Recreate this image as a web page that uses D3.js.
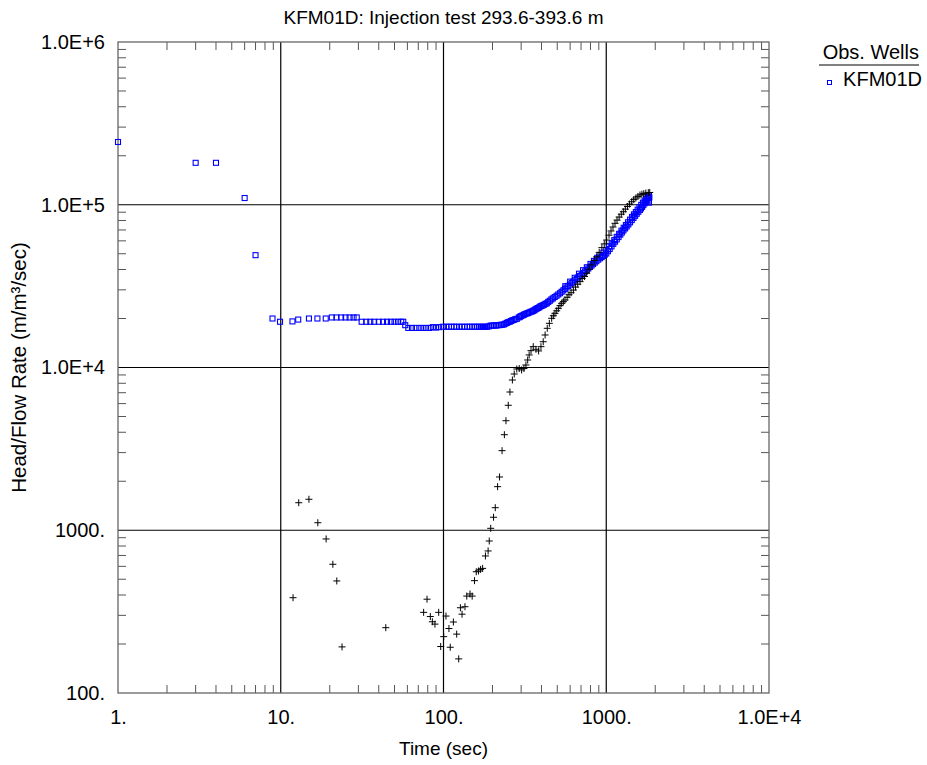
<!DOCTYPE html>
<html><head><meta charset="utf-8">
<script src="https://cdn.jsdelivr.net/npm/d3@7/dist/d3.min.js"></script>
<style>body{margin:0;background:#fff}svg{display:block}text{font-family:"Liberation Sans",Arial,sans-serif;fill:#000}</style>
</head><body><svg id="c" width="927" height="765"></svg>
<script>
const title = "KFM01D: Injection test 293.6-393.6 m";
const xTitle = "Time (sec)";
const yTitle = "Head/Flow Rate (m/m³/sec)";
const xTickValues = [1, 10, 100, 1000, 10000];
const xTickLabels = ["1.", "10.", "100.", "1000.", "1.0E+4"];
const yTickValues = [100, 1000, 10000, 100000, 1000000];
const yTickLabels = ["100.", "1000.", "1.0E+4", "1.0E+5", "1.0E+6"];
const legendTitle = "Obs. Wells";
const seriesName = "KFM01D";

// Observed head (blue squares): [time sec, value]
const headData = [
 [1,243000],[3,181000],[4,181000],[6,110000],[7,49000],
 [8.9,20000],[9.9,19100],[11.8,19200],[12.8,19700],[14.9,20000],[16.8,20000],[18.9,20000],
 [20.6,20300],[22,20300],[23.5,20300],[25,20300],[26.5,20300],[28,20300],[29.3,20300],
 [31.4,19100],[33.5,19100],[35.5,19100],[37.5,19100],[40,19100],[42.5,19100],[45,19100],[47.5,19100],[50,19100],[52.5,19100],[55,19100],[56.6,19100],
 [58.2,18200],[60.8,17500],[64,17500],[67.5,17500],[71,17500],[74.5,17500],[78,17500],[82,17500],[86,17700],[90,17600],[94,17700],[99,17800],
 [104,17800],[108,17800],[112,17800],[116,17800],[120,17800],[125,17800],[130,17800],[135,17800],[140,17800],[145,17800],[150,17800],[155,17800],[160,17800],[165,17800],[170,17800],[175,17800],[180,17800],[185,17800],[190,17900],
 [195,18100],[200,18100],[205,18100],[210,18100],[215,18200],[220,18200],[225,18300],[230,18300],
 [235,18400],[240,18600],[245,18800],[250,19000],[255,19100],[260,19300],[265,19500],[270,19600],[276,19800],[282,19900],[290,20300],[295,20500],[300,20700],[306,20900],[312,21100],[318,21300],[325,21500],[331,21600],[337,21800],[343,22000],[350,22100],[356,22300],[362,22500],[368,22800],[374,23000],[380,23200],[387,23400],[393,23700],[400,23900],[407,24100],[415,24300],[423,24600],[431,24800],[440,25300],[450,25700],[460,26200],[470,26600],[482,27100],[495,27600],[507,28100],[520,28600],[532,29200],[545,29800],[557,30400],[570,31000],[584,31700],[598,32300],[613,33000],[628,33700],[643,34400],[658,35000],[674,35800],[690,36500],[706,37200],[723,38000],[740,38900],[758,39700],[776,40600],[795,41500],[812,42300],[830,43200],[850,44100],[870,45000],[893,46000],[916,46900],[937,47700],[958,48500],[979,49300],[1000,50200],[1025,51800],[1050,53500],[1077,55500],[1105,57500],[1132,59300],[1160,61200],[1190,63300],[1220,65500],[1247,67500],[1275,69500],[1305,71500],[1335,73500],[1367,75700],[1400,78000],[1435,80500],[1470,83000],[1505,85500],[1540,88000],[1575,90500],[1611,93000],[1635,95000],[1660,97000],[1690,99500],[1720,102000],[1745,104000],[1770,106000],[1790,108000],[1812,110000],[1840,111000],
 // upper edge of the dense band
 [560,31600],[600,33700],[640,35600],[680,37700],[720,39600],[760,41300],[800,43300],[840,45200],[880,47200],[920,49000],[960,50800],[1000,52600],[1040,55500],[1080,58000],[1120,60600],[1160,63500],[1200,66300],[1240,69300],[1280,72200],[1320,75000],[1360,78000],[1400,81000],[1440,84200],[1480,87300],[1520,90200],[1560,93300],[1600,96600],[1640,99800],[1680,103000],[1720,106000],[1760,109000],[1800,112000],[1830,114000],[1830,106000],[1830,103000]
];

// Derivative (black crosses): [time sec, value]
const derivData = [
 [11.9,385],[12.9,1476],[14.9,1550],[16.9,1112],[19.0,884],[20.9,618],[22.1,488],[23.8,192],[44.2,252],
 [75.5,313],[79.2,377],[83.0,295],[85.4,274],[88.6,265],[93.4,313],[96.1,193],[100.3,222],[103.6,297],[108,249],[110,191],[115,273],[120.5,230],[124,162],[127,334],[130,305],[135.5,339],[139,394],[145.5,406],[150,394],[155,490],[159,556],[164,562],[169,575],[174,583],[181,695],[188,746],[191,859],[195,1028],[203,1202],[208,1376],[215,1853],[221,2125],
 [229,3083],[236.6,3864],[242,4710],[250,5860],[256,7070],[265,8380],[272,9120],[282,9790],[292,9850],[302,9660],[312,9850],[321,10360],[329,11120],[336,11940],[345,12690],[356,13430],[370,12940],[384,12640],[397,13430],[410,14400],[421,15840],[434,17410],[447,18680],[462,20060],[473,20800],[484,21530],[496,22300],[508,23100],[520,24000],[532,24800],[545,25400],
 [558,26000],[575,27000],[590,28000],[608,28800],[628,29900],[648,31200],[668,32500],[690,33700],[712,35200],[735,36200],[758,37900],[785,40200],[815,42700],[845,45500],[873,47900],[905,51000],[940,54500],[972,57500],[1006,60700],[1040,65000],[1070,69000],[1100,73000],[1132,76900],[1165,80500],[1200,84000],[1237,87500],[1274,90600],[1310,94000],[1350,97500],[1390,101000],[1433,104400],[1475,107500],[1520,110000],[1565,112500],[1611,114800],[1655,116000],[1700,117000],[1750,118000],[1813,118600],[1850,119000]
];

const svg = d3.select("#c");
const L = 118, R = 769, T = 42, B = 693;
const x = d3.scaleLog().domain([1, 10000]).range([L, R]);
const y = d3.scaleLog().domain([100, 1000000]).range([B, T]);
const FS = 19, TFS = 20;

// minor ticks (inside, all four sides)
const g = svg.append("g");
const xMinor = x.ticks().filter(v => !xTickValues.includes(v));
const yMinor = y.ticks().filter(v => !yTickValues.includes(v));
const tickLen = 8, tickCol = "#555";
g.selectAll(".xmb").data(xMinor).join("line").attr("x1", d => x(d)).attr("x2", d => x(d)).attr("y1", B).attr("y2", B - tickLen).attr("stroke", tickCol);
g.selectAll(".xmt").data(xMinor).join("line").attr("x1", d => x(d)).attr("x2", d => x(d)).attr("y1", T).attr("y2", T + tickLen).attr("stroke", tickCol);
g.selectAll(".yml").data(yMinor).join("line").attr("y1", d => y(d)).attr("y2", d => y(d)).attr("x1", L).attr("x2", L + tickLen).attr("stroke", tickCol);
g.selectAll(".ymr").data(yMinor).join("line").attr("y1", d => y(d)).attr("y2", d => y(d)).attr("x1", R).attr("x2", R - tickLen).attr("stroke", tickCol);

// grid lines at decades
g.selectAll(".gx").data(xTickValues.slice(1, -1)).join("line").attr("x1", d => x(d)).attr("x2", d => x(d)).attr("y1", T).attr("y2", B).attr("stroke", "#000").attr("stroke-width", 1.2);
g.selectAll(".gy").data(yTickValues.slice(1, -1)).join("line").attr("y1", d => y(d)).attr("y2", d => y(d)).attr("x1", L).attr("x2", R).attr("stroke", "#000").attr("stroke-width", 1.2);

// frame
svg.append("rect").attr("x", L).attr("y", T).attr("width", R - L).attr("height", B - T).attr("fill", "none").attr("stroke", "#666").attr("stroke-width", 1.3);

// axes labels via d3 axes
const xa = svg.append("g").attr("transform", `translate(0,${B})`)
  .call(d3.axisBottom(x).tickValues(xTickValues).tickFormat((d, i) => xTickLabels[i]).tickSize(0).tickPadding(17));
const ya = svg.append("g").attr("transform", `translate(${L},0)`)
  .call(d3.axisLeft(y).tickValues(yTickValues).tickFormat((d, i) => yTickLabels[i]).tickSize(0).tickPadding(13));
[xa, ya].forEach(a => { a.select(".domain").remove(); a.selectAll("text").attr("font-size", TFS).attr("font-family", '"Liberation Sans",Arial,sans-serif').attr("fill", "#000"); });

// titles
svg.append("text").attr("x", (L + R) / 2).attr("y", 24).attr("text-anchor", "middle").attr("font-size", FS).text(title);
svg.append("text").attr("x", (L + R) / 2).attr("y", 755).attr("text-anchor", "middle").attr("font-size", FS).text(xTitle);
svg.append("text").attr("transform", `translate(26,${(T + B) / 2}) rotate(-90)`).attr("text-anchor", "middle").attr("font-size", 20.5).text(yTitle);

// data: blue squares
const S = 5;
svg.append("g").selectAll("rect").data(headData).join("rect")
  .attr("x", d => x(d[0]) - S / 2).attr("y", d => y(d[1]) - S / 2).attr("width", S).attr("height", S)
  .attr("fill", "none").attr("stroke", "#0000ff").attr("stroke-width", 1.1);

// data: black crosses
const C = 3.5;
const cg = svg.append("g").attr("stroke", "#000").attr("stroke-width", 1);
cg.selectAll("path").data(derivData).join("path")
  .attr("d", d => { const px = x(d[0]), py = y(d[1]); return `M${px - C},${py}H${px + C}M${px},${py - C}V${py + C}`; });

// legend
svg.append("text").attr("x", 919).attr("y", 59).attr("text-anchor", "end").attr("font-size", 20).text(legendTitle);
svg.append("line").attr("x1", 819).attr("x2", 919).attr("y1", 65).attr("y2", 65).attr("stroke", "#000").attr("stroke-width", 1);
svg.append("rect").attr("x", 827.5).attr("y", 80.5).attr("width", 4).attr("height", 4).attr("fill", "none").attr("stroke", "#0000ff");
svg.append("text").attr("x", 922).attr("y", 86).attr("text-anchor", "end").attr("font-size", 20).text(seriesName);
</script></body></html>
